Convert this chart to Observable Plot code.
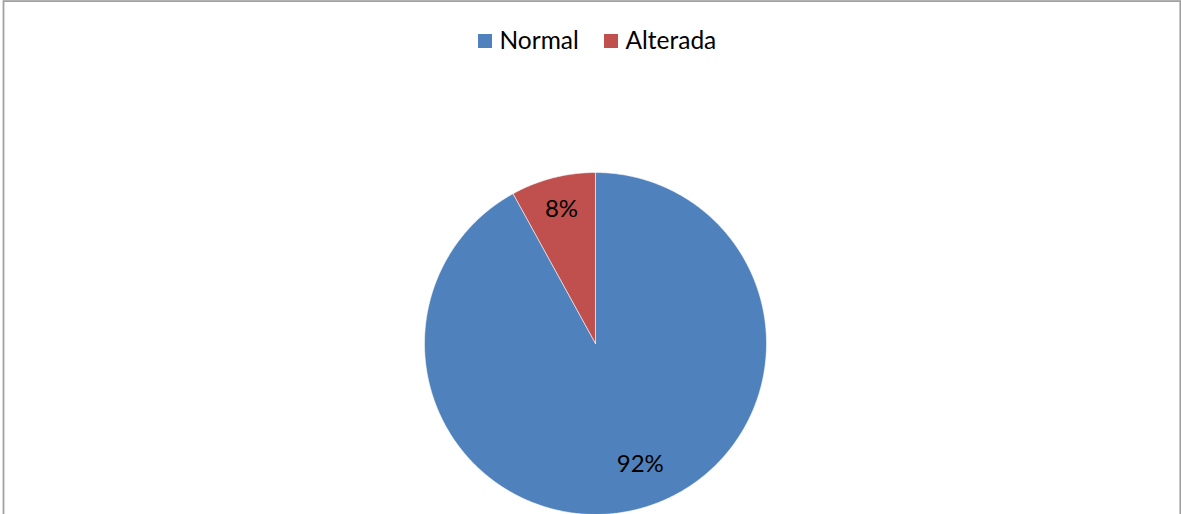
<!DOCTYPE html>
<html>
<head>
<meta charset="utf-8">
<script src="https://cdn.jsdelivr.net/npm/d3@7"></script>
<script src="https://cdn.jsdelivr.net/npm/@observablehq/plot@0.6"></script>
<style>
  html, body { margin: 0; padding: 0; background: #fff; }
</style>
</head>
<body>
<div id="chart"></div>
<script>
const categories = ["Normal", "Alterada"];
const values = [92, 8];
const labels = ["92%", "8%"];
const colors = ["#4F81BD", "#C0504D"];

const W = 1181, H = 514;
const cx = 595, cy = 343, R = 171;

const arcs = d3.pie().sort(null).value(d => d.value)(
  categories.map((c, i) => ({cat: c, value: values[i], label: labels[i]}))
);

// outline points for each slice (sampled along its arc)
const slicePts = [];
for (const a of arcs) {
  const n = Math.max(2, Math.ceil((a.endAngle - a.startAngle) / (Math.PI / 360)));
  slicePts.push({cat: a.data.cat, x: cx, y: cy});
  for (let k = 0; k <= n; k++) {
    const t = a.startAngle + (a.endAngle - a.startAngle) * k / n;
    slicePts.push({cat: a.data.cat, x: cx + R * Math.sin(t), y: cy - R * Math.cos(t)});
  }
  slicePts.push({cat: a.data.cat, x: cx, y: cy});
}

// label placement (radius fraction, pixel nudge) per slice
const labelRadius = [0.77, 0.80];
const labelNudge = [[12, -7], [0, -2]];
const labelPts = arcs.map((a, i) => {
  const m = (a.startAngle + a.endAngle) / 2;
  const f = labelRadius[i];
  return {label: a.data.label,
          x: cx + f * R * Math.sin(m) + labelNudge[i][0],
          y: cy - f * R * Math.cos(m) + labelNudge[i][1]};
});

const legendItems = categories.map((c, i) => ({cat: c, i}));
const legX = [478, 604];

const chart = Plot.plot({
  width: W,
  height: H,
  margin: 0,
  x: {domain: [0, W], range: [0, W], axis: null},
  y: {domain: [0, H], range: [0, H], axis: null},
  color: {domain: categories, range: colors},
  style: {fontFamily: "Lato, 'Open Sans', sans-serif", background: "#fff", overflow: "hidden"},
  marks: [
    Plot.line(slicePts, {x: "x", y: "y", z: "cat", fill: "cat", stroke: "#fff", strokeWidth: 0.8, strokeOpacity: 0.7}),
    Plot.text(labelPts, {x: "x", y: "y", text: "label", fontSize: 24, fill: "#000", textAnchor: "middle", lineAnchor: "middle"}),
    Plot.rect(legendItems, {x1: d => legX[d.i], x2: d => legX[d.i] + 14, y1: 34, y2: 48, fill: "cat"}),
    Plot.text(legendItems, {x: d => legX[d.i] + 21, y: 41, text: "cat", fontSize: 24.5, fill: "#000", textAnchor: "start", lineAnchor: "middle"}),
    Plot.frame({stroke: "#a0a0a0", strokeWidth: 1.8, insetLeft: 3, insetTop: 0.6, insetRight: 1.2, insetBottom: -6})
  ]
});
document.getElementById("chart").appendChild(chart);
</script>
</body>
</html>
